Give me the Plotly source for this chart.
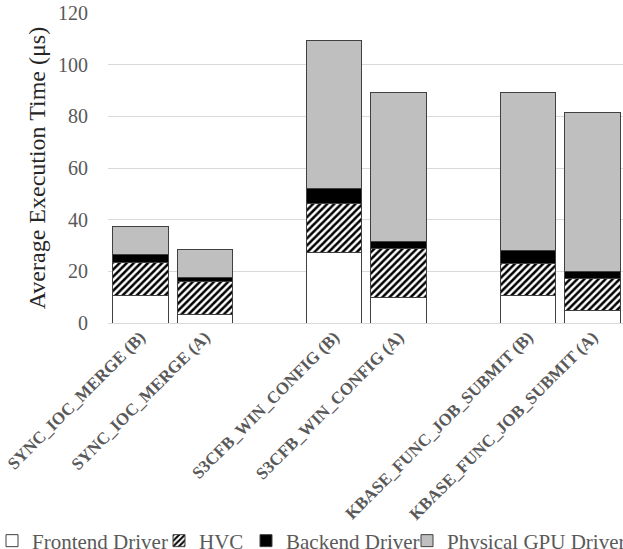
import plotly.graph_objects as go

# Category slots (blank slots separate the three ioctl groups)
slots = ["SYNC_IOC_MERGE (B)", "SYNC_IOC_MERGE (A)", " ",
         "S3CFB_WIN_CONFIG (B)", "S3CFB_WIN_CONFIG (A)", "  ",
         "KBASE_FUNC_JOB_SUBMIT (B)", "KBASE_FUNC_JOB_SUBMIT (A)"]
categories = ["SYNC_IOC_MERGE (B)", "SYNC_IOC_MERGE (A)",
              "S3CFB_WIN_CONFIG (B)", "S3CFB_WIN_CONFIG (A)",
              "KBASE_FUNC_JOB_SUBMIT (B)", "KBASE_FUNC_JOB_SUBMIT (A)"]

# Average execution time per component (µs)
frontend_driver = [10.6, 3.4, 27.1, 9.9, 10.7, 4.9]
hvc = [12.9, 12.7, 19.1, 18.9, 12.3, 12.3]
backend_driver = [3.0, 1.7, 5.7, 2.9, 5.1, 2.8]
physical_gpu_driver = [10.7, 10.7, 57.5, 57.7, 61.3, 61.3]

y_ticks = [0, 20, 40, 60, 80, 100, 120]

W, H = 623, 549
ML, MR, MT, MB = 108, 0, 13, 226
PW, PH = W - ML - MR, H - MT - MB
SERIF = "Liberation Serif, Times New Roman, serif"
OUTLINE = dict(color="#404040", width=1)
LEGEND_FONT = dict(family=SERIF, size=21, color="#595959")

fig = go.Figure()
fig.add_trace(go.Bar(
    name="Frontend Driver", x=categories, y=frontend_driver, legend="legend",
    showlegend=True,
    marker=dict(color="white", line=OUTLINE),
))
fig.add_trace(go.Bar(
    name="HVC", x=categories, y=hvc, legend="legend2",
    marker=dict(color="white", line=OUTLINE,
                pattern=dict(shape="/", fgcolor="black", bgcolor="white",
                             fgopacity=1, size=5, solidity=0.5)),
))
fig.add_trace(go.Bar(
    name="Backend Driver", x=categories, y=backend_driver, legend="legend3",
    marker=dict(color="black", line=OUTLINE),
))
fig.add_trace(go.Bar(
    name="Physical GPU Driver", x=categories, y=physical_gpu_driver, legend="legend4",
    marker=dict(color="#BFBFBF", line=OUTLINE),
))


def legend_at(text_left_px):
    # one single-entry legend per series, placed along the bottom row
    return dict(
        x=(text_left_px - 40 - ML) / PW, xanchor="left",
        y=(MT + PH - 541) / PH, yanchor="middle",
        font=LEGEND_FONT, itemwidth=30, bgcolor="rgba(0,0,0,0)",
    )


fig.update_layout(
    width=W, height=H,
    showlegend=True,
    barmode="stack", bargap=0.14,
    plot_bgcolor="white", paper_bgcolor="white",
    margin=dict(l=ML, r=MR, t=MT, b=MB, autoexpand=False),
    font=dict(family=SERIF, color="#595959"),
    legend=legend_at(32),
    legend2=legend_at(199),
    legend3=legend_at(286),
    legend4=legend_at(447),
)
fig.update_xaxes(
    type="category", categoryorder="array", categoryarray=slots,
    range=[-0.5, 7.47],
    tickangle=-45, tickfont=dict(family=SERIF, size=17, color="#595959", weight="bold"),
    showline=False, showgrid=False, ticks="",
)
fig.update_yaxes(
    range=[0, 120], tickvals=y_ticks,
    tickfont=dict(family=SERIF, size=20, color="#595959"),
    ticklabelstandoff=19,
    showgrid=True, gridcolor="#D9D9D9", gridwidth=1,
    zeroline=True, zerolinecolor="#D9D9D9", zerolinewidth=1,
    showline=False,
    title=dict(text="Average Execution Time (μs)",
               font=dict(family=SERIF, size=24, color="#262626"), standoff=5),
)

fig.write_html("out.html")
